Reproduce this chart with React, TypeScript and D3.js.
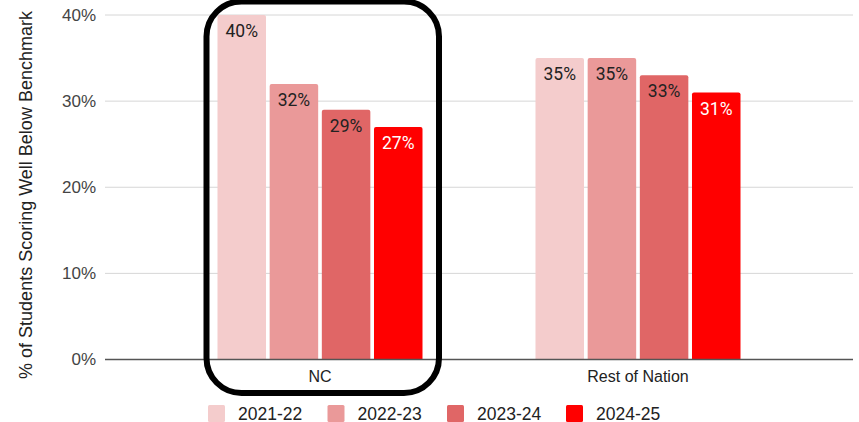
import React from "react";
import * as d3 from "d3";

const categories = ["NC", "Rest of Nation"];
const seriesNames = ["2021-22", "2022-23", "2023-24", "2024-25"];
const values2021 = [40, 35];
const values2022 = [32, 35];
const values2023 = [29, 33];
const values2024 = [27, 31];
const yTicks = [0, 10, 20, 30, 40];
const colors = ["#f4cccc", "#ea9999", "#e06666", "#ff0000"];
const labelColors = ["#222222", "#222222", "#222222", "#ffffff"];

const W = 859;
const H = 422;

export default function App() {
  const seriesValues = [values2021, values2022, values2023, values2024];
  const x0 = d3.scaleBand<string>().domain(categories).range([161, 797]);
  const groupW = 205;
  const x1 = d3.scaleBand<string>().domain(seriesNames).range([0, groupW]).paddingInner(0.07);
  const y = d3.scaleLinear().domain([0, 40]).range([359.5, 15]);
  const gx0 = 105;
  const gx1 = 853;
  const groupStart = (c: string) => (x0(c) as number) + (x0.bandwidth() - groupW) / 2;

  const ncStart = groupStart("NC");
  const legendX = [208, 327.5, 447, 566];

  return (
    <svg
      width={W}
      height={H}
      style={{ position: "absolute", left: 0, top: 0, background: "#fff" }}
      fontFamily="Arial, 'Liberation Sans', sans-serif"
    >
      {yTicks.map((t) => (
        <g key={t}>
          {t !== 0 && (
            <line x1={gx0} x2={gx1} y1={y(t)} y2={y(t)} stroke="#d6d6d6" strokeWidth={1} />
          )}
          <text x={96} y={y(t)} dy="0.35em" textAnchor="end" fontSize={17} fill="#444">
            {t}%
          </text>
        </g>
      ))}
      <text
        transform={`translate(26, ${(12 + 378) / 2}) rotate(-90)`}
        textAnchor="middle"
        fontSize={18}
        fill="#222"
        dy="0.35em"
      >
        % of Students Scoring Well Below Benchmark
      </text>
      {categories.map((c, ci) => (
        <g key={c}>
          {seriesNames.map((s, si) => {
            const v = seriesValues[si][ci];
            const bx = groupStart(c) + (x1(s) as number);
            const by = y(v);
            const bh = y(0) - by;
            return (
              <g key={s}>
                <path
                  d={`M${bx},${by + bh} V${by + 2} Q${bx},${by} ${bx + 2},${by} H${bx + x1.bandwidth() - 2} Q${bx + x1.bandwidth()},${by} ${bx + x1.bandwidth()},${by + 2} V${by + bh} Z`}
                  fill={colors[si]}
                />
                <text
                  x={bx + x1.bandwidth() / 2}
                  y={by + 16}
                  dy="0.35em"
                  textAnchor="middle"
                  fontSize={17.5}
                  fontFamily="Roboto, sans-serif"
                  fill={labelColors[si]}
                >
                  {v}%
                </text>
              </g>
            );
          })}
          <text
            x={(x0(c) as number) + x0.bandwidth() / 2}
            y={376}
            dy="0.35em"
            textAnchor="middle"
            fontSize={16}
            fill="#222"
          >
            {c}
          </text>
        </g>
      ))}
      <line x1={gx0} x2={gx1} y1={y(0)} y2={y(0)} stroke="#555" strokeWidth={1.5} />
      <rect
        x={ncStart - 11}
        y={1.5}
        width={groupW + 27.5}
        height={391.5}
        rx={35}
        ry={35}
        fill="none"
        stroke="#000"
        strokeWidth={6}
      />
      {seriesNames.map((s, si) => (
        <g key={s}>
          <rect x={legendX[si]} y={405} width={17} height={17} rx={1.5} fill={colors[si]} />
          <text x={legendX[si] + 30} y={413.5} dy="0.35em" fontSize={17.5} fill="#222">
            {s}
          </text>
        </g>
      ))}
    </svg>
  );
}
